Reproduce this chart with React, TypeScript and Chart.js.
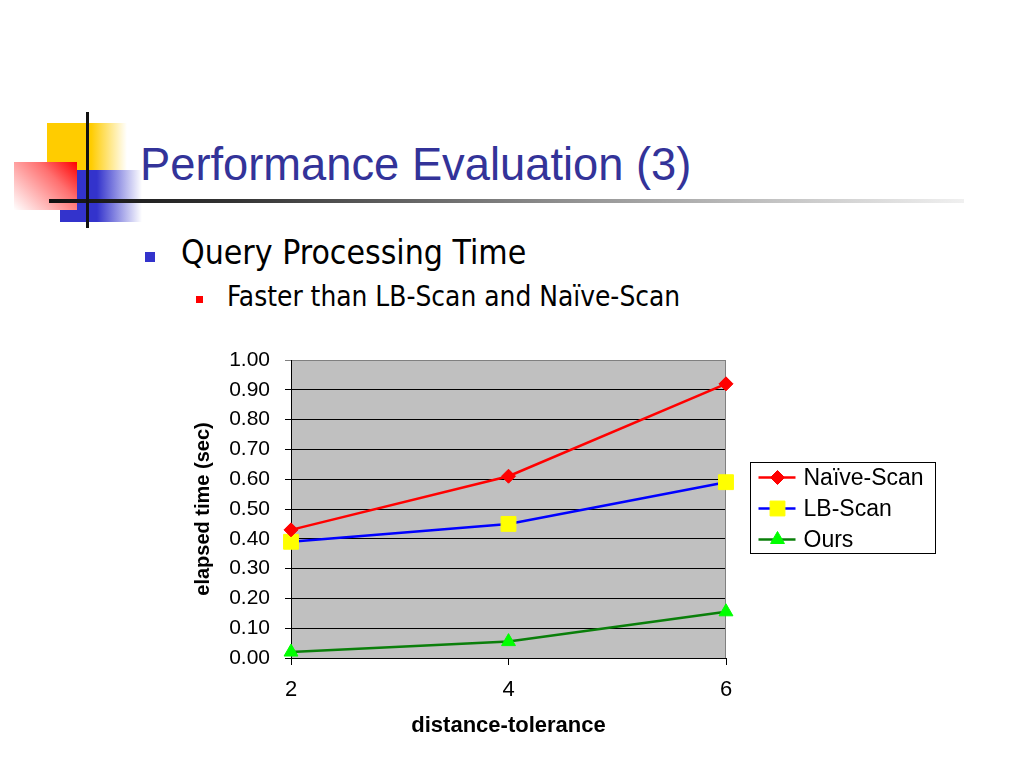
import React, { useEffect, useRef } from 'react';
import { Chart, registerables } from 'chart.js';
import { drawPoint } from 'chart.js/helpers';

Chart.register(...registerables);

const categories = ['2', '4', '6'];
const seriesNames = ['Naïve-Scan', 'LB-Scan', 'Ours'];
const naiveScan = [0.43, 0.61, 0.92];
const lbScan = [0.39, 0.45, 0.59];
const ours = [0.02, 0.055, 0.155];
const yMin = 0;
const yMax = 1;
const yStep = 0.1;
const xTitle = 'distance-tolerance';
const yTitle = 'elapsed time (sec)';
const slideTitle = 'Performance Evaluation (3)';
const bullet1 = 'Query Processing Time';
const bullet2 = 'Faster than LB-Scan and Naïve-Scan';

const FONT = '"Liberation Sans", Arial, sans-serif';

const plotFrame = {
  id: 'plotFrame',
  beforeDraw(chart: any) {
    const { ctx, chartArea } = chart;
    const { left, top, width, height } = chartArea;
    ctx.save();
    ctx.fillStyle = '#c0c0c0';
    ctx.fillRect(left, top, width, height);
    ctx.restore();
  },
  beforeDatasetsDraw(chart: any) {
    const { ctx, chartArea } = chart;
    ctx.save();
    ctx.strokeStyle = '#808080';
    ctx.lineWidth = 1;
    ctx.beginPath();
    ctx.moveTo(chartArea.right - 0.5, chartArea.top);
    ctx.lineTo(chartArea.right - 0.5, chartArea.bottom);
    ctx.stroke();
    ctx.restore();
  },
};

const boxLegend = {
  id: 'boxLegend',
  afterDraw(chart: any) {
    const { ctx, chartArea } = chart;
    const x0 = Math.round(chartArea.right + 24) + 0.5;
    const y0 = Math.round(chartArea.top + 102) + 0.5;
    const w = 185;
    const h = 91;
    ctx.save();
    ctx.fillStyle = '#ffffff';
    ctx.fillRect(x0, y0, w, h);
    ctx.strokeStyle = '#000000';
    ctx.lineWidth = 1;
    ctx.strokeRect(x0, y0, w, h);
    chart.data.datasets.forEach((ds: any, i: number) => {
      const cy = y0 + 15 + i * 31;
      ctx.strokeStyle = ds.borderColor;
      ctx.lineWidth = ds.borderWidth;
      ctx.beginPath();
      ctx.moveTo(x0 + 8, cy);
      ctx.lineTo(x0 + 45, cy);
      ctx.stroke();
      ctx.fillStyle = ds.pointBackgroundColor;
      ctx.strokeStyle = ds.pointBorderColor;
      ctx.lineWidth = 1;
      drawPoint(ctx, { pointStyle: ds.pointStyle, radius: ds.pointRadius, rotation: 0, borderWidth: 1 } as any, x0 + 27, cy);
      ctx.fillStyle = '#000000';
      ctx.font = `23px ${FONT}`;
      ctx.textBaseline = 'middle';
      ctx.textAlign = 'left';
      ctx.fillText(ds.label, x0 + 53, cy + 1);
    });
    ctx.restore();
  },
};

function ChartCanvas() {
  const ref = useRef<HTMLCanvasElement>(null);
  useEffect(() => {
    if (!ref.current) return;
    const chart = new Chart(ref.current, {
      type: 'line',
      data: {
        labels: categories,
        datasets: [
          {
            label: seriesNames[0],
            data: naiveScan,
            borderColor: '#ff0000',
            borderWidth: 2.5,
            pointStyle: 'rectRot',
            pointRadius: 7,
            pointBackgroundColor: '#ff0000',
            pointBorderColor: '#ff0000',
            pointBorderWidth: 1,
          },
          {
            label: seriesNames[1],
            data: lbScan,
            borderColor: '#0000ff',
            borderWidth: 2.5,
            pointStyle: 'rect',
            pointRadius: 10.5,
            pointBackgroundColor: '#ffff00',
            pointBorderColor: '#ffff00',
            pointBorderWidth: 1,
          },
          {
            label: seriesNames[2],
            data: ours,
            borderColor: '#0a7f0a',
            borderWidth: 2.5,
            pointStyle: 'triangle',
            pointRadius: 8,
            pointBackgroundColor: '#00ff00',
            pointBorderColor: '#00ff00',
            pointBorderWidth: 1,
          },
        ],
      } as any,
      options: {
        animation: false,
        responsive: false,
        devicePixelRatio: 1,
        layout: { padding: { top: 28, right: 234, bottom: 0, left: 0 } },
        plugins: { legend: { display: false }, tooltip: { enabled: false } },
        scales: {
          x: {
            type: 'category',
            offset: false,
            afterFit(scale: any) {
              scale.height = 92;
            },
            grid: {
              display: true,
              drawOnChartArea: false,
              drawTicks: true,
              tickLength: 7,
              color: '#000000',
            },
            border: { display: true, color: '#000000', width: 1 },
            ticks: {
              color: '#000000',
              font: { family: FONT, size: 22 },
              padding: 12,
              maxRotation: 0,
            },
            title: {
              display: true,
              text: xTitle,
              color: '#000000',
              font: { family: FONT, size: 22, weight: 'bold' },
              padding: { top: 0, bottom: 11 },
            },
          },
          y: {
            type: 'linear',
            min: yMin,
            max: yMax,
            afterFit(scale: any) {
              scale.width = 111;
            },
            grid: {
              color: (c: any) => (c.tick && c.tick.value >= yMax - 1e-9 ? '#808080' : '#000000'),
              tickLength: 6,
              drawTicks: true,
            },
            border: { display: true, color: '#000000', width: 1 },
            ticks: {
              stepSize: yStep,
              color: '#000000',
              font: { family: FONT, size: 21 },
              padding: 15,
              callback: (v: any) => Number(v).toFixed(2),
            },
            title: {
              display: true,
              text: yTitle,
              color: '#000000',
              font: { family: FONT, size: 20, weight: 'bold' },
              padding: { top: 11, bottom: 0 },
            },
          },
        },
      } as any,
      plugins: [plotFrame, boxLegend],
    });
    return () => chart.destroy();
  }, []);
  return (
    <canvas
      ref={ref}
      width={780}
      height={418}
      style={{ position: 'absolute', left: 180, top: 332, width: 780, height: 418 }}
    />
  );
}

export default function App() {
  const bulletFont = '"DejaVu Sans Condensed", Tahoma, "DejaVu Sans", sans-serif';
  return (
    <div
      style={{
        position: 'absolute',
        left: 0,
        top: 0,
        width: 1024,
        height: 768,
        background: '#ffffff',
        overflow: 'hidden',
      }}
    >
      <div
        style={{
          position: 'absolute',
          left: 47,
          top: 123,
          width: 80,
          height: 70,
          background: 'linear-gradient(to right, #ffcc00 0%, #ffcc00 55%, #ffffff 100%)',
        }}
      />
      <div
        style={{
          position: 'absolute',
          left: 60,
          top: 170,
          width: 82,
          height: 52,
          background: 'linear-gradient(to right, #3333cc 0%, #3333cc 45%, #ffffff 100%)',
        }}
      />
      <div
        style={{
          position: 'absolute',
          left: 14,
          top: 162,
          width: 63,
          height: 48,
          background: 'linear-gradient(225deg, #ff0000 0%, #ff7070 35%, #ffffff 100%)',
        }}
      />
      <div
        style={{
          position: 'absolute',
          left: 49,
          top: 199,
          width: 915,
          height: 4,
          background: 'linear-gradient(to right, #111111 0%, #333333 20%, #999999 60%, #f0f0f0 100%)',
        }}
      />
      <div style={{ position: 'absolute', left: 86, top: 112, width: 3, height: 116, background: '#111111' }} />
      <div
        style={{
          position: 'absolute',
          left: 140,
          top: 138,
          fontFamily: FONT,
          fontSize: 45.3,
          lineHeight: '54px',
          color: '#333399',
          whiteSpace: 'nowrap',
        }}
      >
        {slideTitle}
      </div>
      <div style={{ position: 'absolute', left: 145, top: 252, width: 10, height: 10, background: '#3333cc' }} />
      <div
        style={{
          position: 'absolute',
          left: 181,
          top: 233,
          fontFamily: bulletFont,
          fontSize: 33.5,
          lineHeight: '40px',
          color: '#000000',
          whiteSpace: 'nowrap',
        }}
      >
        {bullet1}
      </div>
      <div style={{ position: 'absolute', left: 196, top: 296, width: 7, height: 7, background: '#ff0000' }} />
      <div
        style={{
          position: 'absolute',
          left: 227,
          top: 280,
          fontFamily: bulletFont,
          fontSize: 27.8,
          lineHeight: '34px',
          color: '#000000',
          whiteSpace: 'nowrap',
        }}
      >
        {bullet2}
      </div>
      <ChartCanvas />
    </div>
  );
}
